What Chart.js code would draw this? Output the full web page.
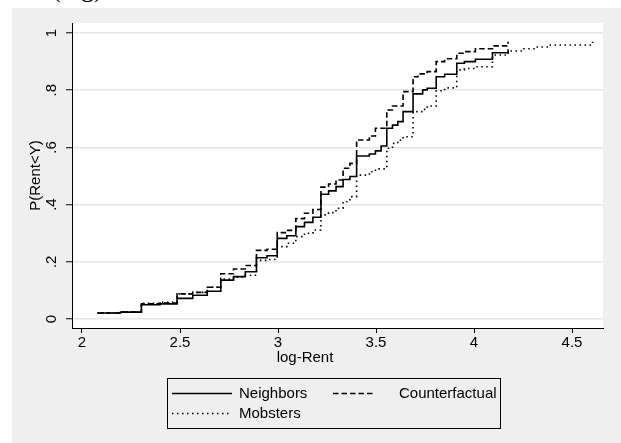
<!DOCTYPE html>
<html>
<head>
<meta charset="utf-8">
<script src="https://cdn.jsdelivr.net/npm/chart.js@4.4.1/dist/chart.umd.min.js"></script>
<style>
  html, body { margin: 0; padding: 0; background: #ffffff; }
  #wrap { position: relative; width: 621px; height: 443px; overflow: hidden; }
  #bg { position: absolute; left: 12px; top: 8px; width: 609px; height: 435px; background: #efefef; }
  #cap { position: absolute; left: 52px; top: -24px; font-family: 'Liberation Serif', 'Times New Roman', serif; font-size: 26px; line-height: 26px; color: #000; white-space: nowrap; }
  canvas { position: absolute; left: 0; top: 0; }
</style>
</head>
<body>
<div id="wrap">
  <div id="bg"></div>
  <div id="cap">(log)</div>
  <canvas id="c" width="621" height="443"></canvas>
</div>
<script>
// ---- data ----
const seriesNames = ['Neighbors', 'Counterfactual', 'Mobsters'];

const neighborsX = [2.079, 2.197, 2.303, 2.398, 2.485, 2.565, 2.639, 2.708, 2.773, 2.833, 2.890, 2.944, 2.996, 3.045, 3.091, 3.135, 3.178, 3.219, 3.258, 3.296, 3.332, 3.367, 3.401, 3.466, 3.497, 3.526, 3.555, 3.584, 3.611, 3.638, 3.689, 3.738, 3.761, 3.807, 3.850, 3.912, 3.951, 4.007, 4.094, 4.174];
const neighborsY = [0.021, 0.024, 0.050, 0.053, 0.072, 0.083, 0.097, 0.136, 0.148, 0.165, 0.214, 0.221, 0.282, 0.291, 0.323, 0.338, 0.356, 0.436, 0.448, 0.463, 0.488, 0.498, 0.570, 0.577, 0.588, 0.605, 0.667, 0.678, 0.690, 0.725, 0.787, 0.801, 0.807, 0.847, 0.856, 0.894, 0.900, 0.908, 0.931, 0.943];

const counterX = [2.079, 2.197, 2.303, 2.398, 2.485, 2.565, 2.639, 2.708, 2.773, 2.833, 2.890, 2.944, 2.996, 3.045, 3.091, 3.135, 3.178, 3.219, 3.258, 3.296, 3.332, 3.367, 3.401, 3.466, 3.497, 3.555, 3.584, 3.638, 3.689, 3.714, 3.761, 3.807, 3.850, 3.912, 3.951, 4.007, 4.094, 4.174];
const counterY = [0.021, 0.024, 0.053, 0.056, 0.088, 0.093, 0.111, 0.158, 0.175, 0.187, 0.240, 0.244, 0.302, 0.310, 0.351, 0.370, 0.383, 0.461, 0.472, 0.486, 0.527, 0.544, 0.626, 0.640, 0.667, 0.731, 0.745, 0.795, 0.847, 0.857, 0.865, 0.900, 0.910, 0.929, 0.935, 0.945, 0.955, 0.969];

const mobstersX = [2.079, 2.197, 2.303, 2.398, 2.485, 2.565, 2.639, 2.708, 2.773, 2.833, 2.890, 2.944, 2.996, 3.045, 3.091, 3.135, 3.178, 3.219, 3.258, 3.296, 3.332, 3.367, 3.401, 3.466, 3.497, 3.555, 3.584, 3.611, 3.638, 3.689, 3.738, 3.761, 3.807, 3.850, 3.912, 3.951, 4.007, 4.094, 4.174, 4.248, 4.317, 4.382, 4.605];
const mobstersY = [0.021, 0.024, 0.055, 0.058, 0.088, 0.093, 0.111, 0.140, 0.146, 0.153, 0.205, 0.208, 0.253, 0.265, 0.288, 0.300, 0.311, 0.364, 0.372, 0.387, 0.410, 0.428, 0.503, 0.515, 0.525, 0.597, 0.614, 0.625, 0.637, 0.725, 0.733, 0.745, 0.798, 0.808, 0.871, 0.876, 0.882, 0.923, 0.937, 0.945, 0.951, 0.958, 0.969];

const xTicks = [2, 2.5, 3, 3.5, 4, 4.5];
const xTickLabels = ['2', '2.5', '3', '3.5', '4', '4.5'];
const yTicks = [0, 0.2, 0.4, 0.6, 0.8, 1];
const yTickLabels = ['0', '.2', '.4', '.6', '.8', '1'];
const xTitle = 'log-Rent';
const yTitle = 'P(Rent<Y)';

// ---- styling ----
const FONT = "'Liberation Sans', Arial, Helvetica, sans-serif";
const dashes = [[], [5.5, 3], [1.5, 3.5]];

function pts(xs, ys) { return xs.map((x, i) => ({ x: x, y: ys[i] })); }

const datasets = [
  { label: seriesNames[0], data: pts(neighborsX, neighborsY), borderDash: dashes[0] },
  { label: seriesNames[1], data: pts(counterX, counterY), borderDash: dashes[1] },
  { label: seriesNames[2], data: pts(mobstersX, mobstersY), borderDash: dashes[2] }
].map(d => Object.assign(d, {
  borderColor: '#000', borderWidth: 1.6, pointRadius: 0, fill: false,
  stepped: 'before', tension: 0
}));

const decor = {
  id: 'decor',
  beforeDraw(chart) {
    const { ctx, chartArea: a } = chart;
    ctx.save();
    ctx.fillStyle = '#ffffff';
    ctx.fillRect(a.left, a.top, a.right - a.left, a.bottom - a.top);
    ctx.restore();
  },
  afterDraw(chart) {
    const { ctx } = chart;
    const ys = chart.scales.y;
    ctx.save();
    ctx.fillStyle = '#000';
    ctx.font = '15px ' + FONT;
    ctx.textAlign = 'center';
    ctx.textBaseline = 'middle';
    // rotated y tick labels
    yTicks.forEach((v, i) => {
      const py = ys.getPixelForValue(v);
      ctx.save();
      ctx.translate(52, py);
      ctx.rotate(-Math.PI / 2);
      ctx.fillText(yTickLabels[i], 0, 0);
      ctx.restore();
    });
    // x title
    ctx.fillText(xTitle, 305, 358);
    // legend
    const L = { x: 167, y: 378, w: 333, h: 50 };
    ctx.strokeStyle = '#000';
    ctx.lineWidth = 1;
    ctx.strokeRect(L.x + 0.5, L.y + 0.5, L.w, L.h);
    const items = [
      { ds: 0, x1: 172, x2: 232, tx: 239, y: 393 },
      { ds: 1, x1: 333, x2: 375, tx: 399, y: 393 },
      { ds: 2, x1: 172, x2: 232, tx: 239, y: 413 }
    ];
    items.forEach(it => {
      const d = chart.data.datasets[it.ds];
      ctx.setLineDash(d.borderDash);
      ctx.lineWidth = 1.3;
      ctx.beginPath();
      ctx.moveTo(it.x1, it.y + 0.5);
      ctx.lineTo(it.x2, it.y + 0.5);
      ctx.stroke();
      ctx.setLineDash([]);
      ctx.textAlign = 'left';
      ctx.fillText(d.label, it.tx, it.y + 1);
    });
    ctx.restore();
  }
};

new Chart(document.getElementById('c'), {
  type: 'line',
  data: { datasets: datasets },
  options: {
    responsive: false,
    animation: false,
    devicePixelRatio: 1,
    layout: { padding: { left: 0, right: 18, top: 23, bottom: 0 } },
    plugins: { legend: { display: false }, tooltip: { enabled: false } },
    scales: {
      x: {
        type: 'linear', min: 1.949, max: 4.658,
        afterBuildTicks: s => { s.ticks = xTicks.map(v => ({ value: v })); },
        afterFit: s => { s.height = 115; },
        grid: { drawOnChartArea: false, drawTicks: true, tickLength: 5, tickColor: '#000', tickWidth: 1 },
        border: { display: true, color: '#000', width: 1 },
        ticks: {
          color: '#000', font: { family: FONT, size: 15 }, padding: 1,
          maxRotation: 0, minRotation: 0, autoSkip: false,
          callback: (v) => { const i = xTicks.indexOf(v); return i >= 0 ? xTickLabels[i] : ''; }
        },
        title: { display: false }
      },
      y: {
        type: 'linear', min: -0.0315, max: 1.035,
        afterBuildTicks: s => { s.ticks = yTicks.map(v => ({ value: v })); },
        afterFit: s => { s.width = 72; },
        grid: { color: '#e6e6e6', lineWidth: 1.5, drawTicks: true, tickLength: 6, tickColor: '#000', tickWidth: 1 },
        border: { display: true, color: '#000', width: 1 },
        ticks: { display: false },
        title: { display: true, text: yTitle, color: '#000', font: { family: FONT, size: 15 }, padding: { top: 27, bottom: 0 } }
      }
    }
  },
  plugins: [decor]
});
</script>
</body>
</html>
